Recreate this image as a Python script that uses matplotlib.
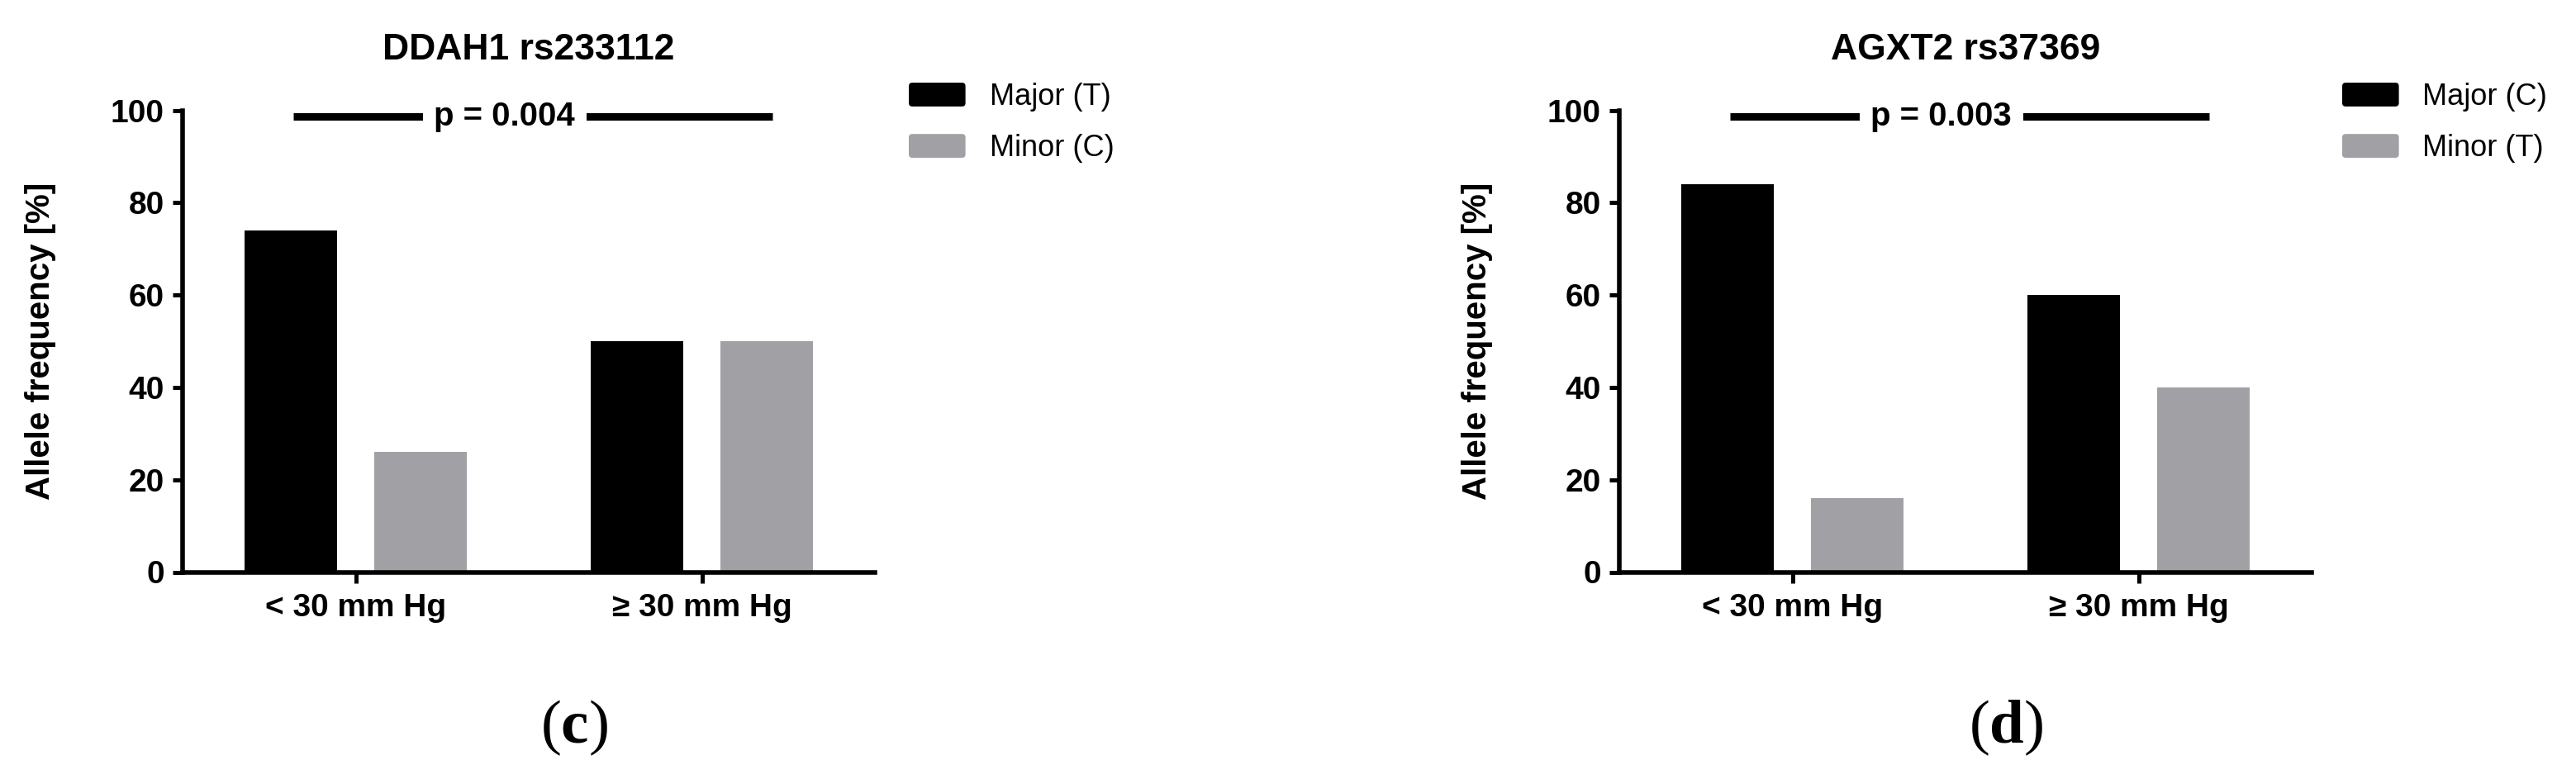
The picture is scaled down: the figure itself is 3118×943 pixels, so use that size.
import matplotlib
matplotlib.use("Agg")
import matplotlib.pyplot as plt
from matplotlib.patches import Patch, FancyBboxPatch
from matplotlib.legend_handler import HandlerPatch
import numpy as np

plt.rcParams['font.family'] = ['Liberation Sans', 'DejaVu Sans']
plt.rcParams['mathtext.fontset'] = 'custom'
plt.rcParams['mathtext.rm'] = 'Liberation Serif'
plt.rcParams['mathtext.bf'] = 'Liberation Serif:bold'

# ---- data ----
groups = ["< 30 mm Hg", "\u2265 30 mm Hg"]
titles = ["DDAH1 rs233112", "AGXT2 rs37369"]
major_labels = ["Major (T)", "Major (C)"]
minor_labels = ["Minor (C)", "Minor (T)"]
major_ddah1 = [74, 50]
minor_ddah1 = [26, 50]
major_agxt2 = [84, 60]
minor_agxt2 = [16, 40]
p_values = ["p = 0.004", "p = 0.003"]
captions = ["c", "d"]
yticks = [0, 20, 40, 60, 80, 100]

majors = [major_ddah1, major_agxt2]
minors = [minor_ddah1, minor_agxt2]

BLACK = "#000000"
GRAY = "#a1a1a5"


class RoundHandler(HandlerPatch):
    def create_artists(self, legend, orig_handle, xdescent, ydescent,
                       width, height, fontsize, trans):
        p = FancyBboxPatch((-xdescent, -ydescent), width, height,
                           boxstyle="round,pad=0,rounding_size=3",
                           facecolor=orig_handle.get_facecolor(),
                           edgecolor='none', transform=trans)
        return [p]


W, H = 3118, 943
fig = plt.figure(figsize=(W / 100, H / 100), dpi=100)

ax_lefts = [221, 1960]
ax_width = 838
ax_bottom = 1 - 692.5 / H
ax_height = (692.5 - 133.5) / H
legend_x = [1100, 2835]
caption_x = [695, 2428]

x = np.arange(len(groups))
bw = 0.268
off = 0.187

for i in range(2):
    ax = fig.add_axes([ax_lefts[i] / W, ax_bottom, ax_width / W, ax_height])
    ax.bar(x - off, majors[i], width=bw, color=BLACK, linewidth=0)
    ax.bar(x + off, minors[i], width=bw, color=GRAY, linewidth=0)
    ax.set_xlim(-0.5, 1.5)
    ax.set_ylim(0, 100)
    ax.set_yticks(yticks)
    ax.set_yticklabels([str(v) for v in yticks])
    ax.set_xticks(x)
    ax.set_xticklabels(groups)
    for s in ["top", "right"]:
        ax.spines[s].set_visible(False)
    for s in ["left", "bottom"]:
        ax.spines[s].set_linewidth(4)
    ax.tick_params(axis='both', width=3.6, length=9, labelsize=28)
    ax.tick_params(axis='y', pad=7)
    ax.tick_params(axis='x', pad=9)
    for lab in ax.get_xticklabels() + ax.get_yticklabels():
        lab.set_fontweight('bold')
    ax.set_ylabel("Allele frequency [%]", fontsize=29, fontweight='bold')
    ax.yaxis.set_label_coords(-0.182, 0.5)
    ax.set_title(titles[i], fontsize=32, fontweight='bold', pad=44)

    # significance bar
    ax.plot([-0.18, 1.205], [98.6, 98.6], color=BLACK, lw=6.5,
            clip_on=False, solid_capstyle='butt')
    ax.text(0.43, 98.6, p_values[i], ha='center', va='center',
            fontsize=29, fontweight='bold', clip_on=False,
            bbox=dict(boxstyle='square,pad=0.34', fc='white', ec='none'))

    handles = [Patch(facecolor=BLACK, edgecolor='none'),
               Patch(facecolor=GRAY, edgecolor='none')]
    ax.legend(handles, [major_labels[i], minor_labels[i]],
              loc='upper left',
              bbox_to_anchor=(legend_x[i] / W, 1 - 100 / H),
              bbox_transform=fig.transFigure,
              frameon=False, fontsize=26, handlelength=1.9, handleheight=0.85,
              handletextpad=0.8, labelspacing=0.75, borderpad=0,
              borderaxespad=0,
              handler_map={Patch: RoundHandler()})

    fig.text(caption_x[i] / W, 1 - 881 / H,
             r'$\mathrm{(}\mathbf{' + captions[i] + r'}\mathrm{)}$',
             ha='center', va='center', fontsize=54)

fig.savefig("out.png", dpi=100)
